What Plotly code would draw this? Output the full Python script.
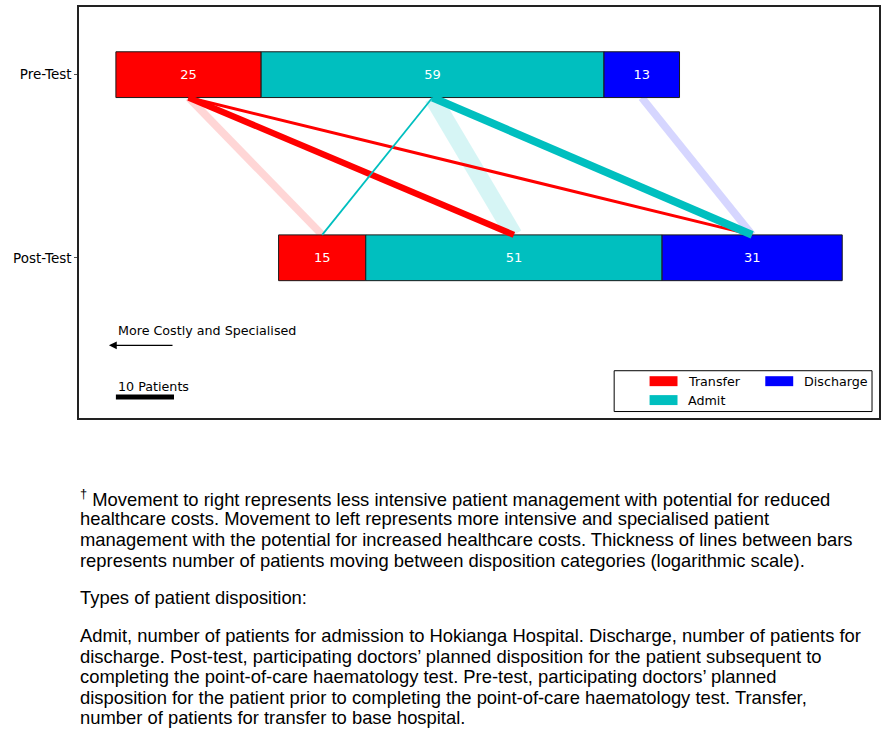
import numpy as np
import plotly.graph_objects as go

# ---------------- data ----------------
categories = ["Transfer", "Admit", "Discharge"]
stages = ["Pre-Test", "Post-Test"]
pre_counts = [25, 59, 13]
post_counts = [15, 51, 31]
post_offset = 28  # horizontal shift of the post-test bar (patients)
# flows: patients moving from a pre-test category to a post-test category
flow_from = ["Transfer", "Transfer", "Transfer", "Admit", "Admit", "Admit", "Discharge"]
flow_to = ["Transfer", "Admit", "Discharge", "Transfer", "Admit", "Discharge", "Discharge"]
flow_n = [13, 9, 3, 2, 42, 15, 13]
scale_patients = 10

colors = {"Transfer": (255, 0, 0), "Admit": (0, 191, 191), "Discharge": (0, 0, 255)}

# ---------------- geometry ----------------
W, H = 886, 731
L, R, T, B = 79, 881, 5, 418
XMIN, XMAX = -6.35, 131.33
YMIN, YMAX = -0.875, 1.3696
BAR_H = 0.25
y_pre, y_post = 1, 0

def px_to_x(px):
    return XMIN + (px - L) / (R - L) * (XMAX - XMIN)

def py_to_y(py):
    return YMAX - (py - T) / (B - T) * (YMAX - YMIN)

def paper_x(px):
    return (px - L) / (R - L)

def paper_y(py):
    return (B - py) / (B - T)

def rgba(c, a=1.0):
    return f"rgba({c[0]},{c[1]},{c[2]},{a})"

pre_base = np.concatenate([[0], np.cumsum(pre_counts)[:-1]])
post_base = post_offset + np.concatenate([[0], np.cumsum(post_counts)[:-1]])
pre_center = {c: pre_base[i] + pre_counts[i] / 2 for i, c in enumerate(categories)}
post_center = {c: post_base[i] + post_counts[i] / 2 for i, c in enumerate(categories)}

fig = go.Figure()

# flow lines (log-scaled thickness); unchanged dispositions drawn first, pale
order = sorted(range(len(flow_n)), key=lambda k: flow_from[k] != flow_to[k])
for k in order:
    src, dst, n = flow_from[k], flow_to[k], flow_n[k]
    same = src == dst
    if same:
        w = 8.0 * np.log(n) - 12.8
        col = rgba(colors[src], 0.16)
    else:
        w = 3.0 * np.log(n) - 0.3
        col = rgba(colors[src], 1.0)
    fig.add_trace(go.Scatter(
        x=[pre_center[src], post_center[dst]],
        y=[y_pre - BAR_H / 2, y_post + BAR_H / 2],
        mode="lines", line=dict(color=col, width=w),
        showlegend=False, hoverinfo="skip"))

# stacked bars
for i, c in enumerate(categories):
    fig.add_trace(go.Bar(
        orientation="h",
        y=[y_pre, y_post],
        x=[pre_counts[i], post_counts[i]],
        base=[pre_base[i], post_base[i]],
        width=BAR_H,
        marker=dict(color=rgba(colors[c]), line=dict(color="#1a1a1a", width=1)),
        text=[str(pre_counts[i]), str(post_counts[i])],
        textposition="inside", insidetextanchor="middle", textangle=0,
        constraintext="none",
        textfont=dict(color="white", size=13, family="DejaVu Sans"),
        showlegend=False, hoverinfo="skip", name=c))

# scale bar (10 patients)
y_scale = py_to_y(397)
fig.add_trace(go.Scatter(x=[0, scale_patients], y=[y_scale, y_scale], mode="lines",
                         line=dict(color="black", width=5), showlegend=False, hoverinfo="skip"))

annotations = []
font_chart = dict(family="DejaVu Sans", size=12.7, color="black")
annotations.append(dict(x=0, y=py_to_y(330), xref="x", yref="y", text="More Costly and Specialised",
                        showarrow=False, xanchor="left", yanchor="middle", font=font_chart))
annotations.append(dict(x=px_to_x(109), y=py_to_y(345), ax=scale_patients, ay=py_to_y(345),
                        xref="x", yref="y", axref="x", ayref="y", text="", showarrow=True,
                        arrowhead=2, arrowsize=1.2, arrowwidth=1.3, arrowcolor="black"))
annotations.append(dict(x=0, y=py_to_y(386), xref="x", yref="y", text=f"{scale_patients} Patients",
                        showarrow=False, xanchor="left", yanchor="middle", font=font_chart))

# custom legend
shapes = [dict(type="rect", xref="paper", yref="paper", x0=paper_x(615.5), x1=paper_x(874),
               y0=paper_y(411.5), y1=paper_y(370.5), line=dict(color="black", width=1),
               fillcolor="white", layer="above")]
legend_items = [("Transfer", 651, 376), ("Discharge", 767, 376), ("Admit", 651, 395)]
for name, lx, ly in legend_items:
    shapes.append(dict(type="rect", xref="paper", yref="paper", x0=paper_x(lx), x1=paper_x(lx + 28),
                       y0=paper_y(ly + 10), y1=paper_y(ly), line=dict(width=0),
                       fillcolor=rgba(colors[name]), layer="above"))
    annotations.append(dict(x=paper_x(lx + 37), y=paper_y(ly + 5), xref="paper", yref="paper",
                            text=name, showarrow=False, xanchor="left", yanchor="middle",
                            font=font_chart))

# footnotes, one annotation per line
font_note = dict(family="Liberation Sans, Arial", size=18.4, color="black")
note_lines = [
    (498, "<sup>†</sup> Movement to right represents less intensive patient management with potential for reduced"),
    (519, "healthcare costs. Movement to left represents more intensive and specialised patient"),
    (540, "management with the potential for increased healthcare costs. Thickness of lines between bars"),
    (561, "represents number of patients moving between disposition categories (logarithmic scale)."),
    (598, "Types of patient disposition:"),
    (637, "Admit, number of patients for admission to Hokianga Hospital. Discharge, number of patients for"),
    (658, "discharge. Post-test, participating doctors’ planned disposition for the patient subsequent to"),
    (678, "completing the point-of-care haematology test. Pre-test, participating doctors’ planned"),
    (699, "disposition for the patient prior to completing the point-of-care haematology test. Transfer,"),
    (719, "number of patients for transfer to base hospital."),
]
for cy, txt in note_lines:
    annotations.append(dict(x=paper_x(78), y=paper_y(cy), xref="paper", yref="paper", text=txt,
                            showarrow=False, xanchor="left", yanchor="middle", align="left",
                            font=font_note))

fig.update_layout(
    width=W, height=H,
    margin=dict(l=L, r=W - R, t=T, b=H - B, pad=0),
    plot_bgcolor="white", paper_bgcolor="white",
    barmode="overlay",
    shapes=shapes, annotations=annotations,
    xaxis=dict(range=[XMIN, XMAX], showgrid=False, zeroline=False, showticklabels=False,
               ticks="", showline=True, mirror=True, linecolor="#222", linewidth=1.5),
    yaxis=dict(range=[YMIN, YMAX], showgrid=False, zeroline=False, tickmode="array",
               tickvals=[y_pre, y_post], ticktext=stages, ticks="outside", ticklen=3,
               tickcolor="#555", showline=True, mirror=True, linecolor="#222", linewidth=1.5,
               tickfont=dict(family="DejaVu Sans", size=13.5, color="black")),
)

fig.write_html("out.html", config={"displayModeBar": False},
               post_script="document.body.style.margin='0px';")
